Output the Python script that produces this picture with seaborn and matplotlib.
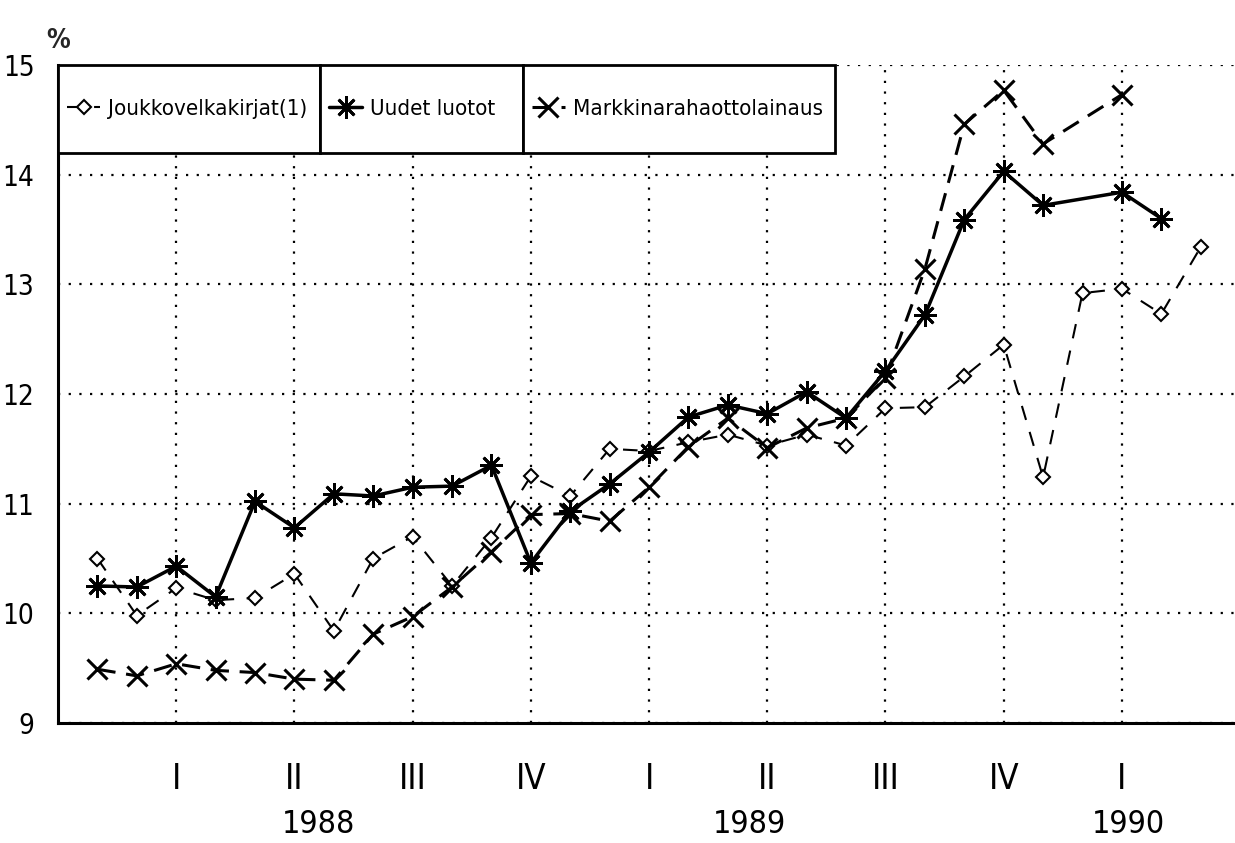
import matplotlib
matplotlib.use("Agg")
import matplotlib.pyplot as plt
import matplotlib.transforms as mtransforms
from matplotlib.font_manager import FontProperties
from matplotlib.legend import Legend
from matplotlib.patches import Rectangle
from matplotlib.ticker import FixedLocator
import seaborn as sns

# kuukausi-indeksi 1 = marraskuu 1987 (neljännesmerkit 3, 6, 9, ...)
months_jk = list(range(1, 30))
joukko = [10.50, 9.98, 10.23, 10.12, 10.14, 10.36, 9.84, 10.50, 10.70, 10.25,
          10.69, 11.25, 11.07, 11.50, 11.48, 11.56, 11.63, 11.53, 11.63, 11.53,
          11.87, 11.88, 12.16, 12.45, 11.24, 12.92, 12.96, 12.73, 13.34]

months_ul = list(range(1, 26)) + [27, 28]
uudet = [10.25, 10.24, 10.43, 10.15, 11.02, 10.78, 11.09, 11.07, 11.15, 11.16,
         11.35, 10.46, 10.93, 11.18, 11.47, 11.79, 11.90, 11.82, 12.02, 11.78,
         12.21, 12.72, 13.59, 14.03, 13.72, 13.84, 13.60]

months_mr = list(range(1, 26)) + [27]
markkina = [9.49, 9.43, 9.54, 9.48, 9.46, 9.40, 9.39, 9.81, 9.97, 10.24,
            10.56, 10.90, 10.91, 10.84, 11.15, 11.52, 11.78, 11.51, 11.69, 11.78,
            12.15, 13.14, 14.46, 14.77, 14.28, 14.73]

series_labels = ["Joukkovelkakirjat(1)", "Uudet luotot", "Markkinarahaottolainaus"]
quarter_ticks = [3, 6, 9, 12, 15, 18, 21, 24, 27]
quarter_labels = ["I", "II", "III", "IV", "I", "II", "III", "IV", "I"]
year_labels = ["1988", "1989", "1990"]
y_ticks = [9, 10, 11, 12, 13, 14, 15]

sns.set_style("white")
fam = ["DejaVu Sans"]
plt.rcParams["font.family"] = fam
plt.rcParams["font.stretch"] = "condensed"

fig = plt.figure(figsize=(12.35, 8.43), dpi=100)
ax = fig.add_axes([58 / 1235, 1 - 723 / 843, (1235 - 58) / 1235, (723 - 65) / 843])

sns.lineplot(x=months_jk, y=joukko, ax=ax, color="black", lw=1.5,
             marker="D", markersize=7, markerfacecolor="white",
             markeredgecolor="black", markeredgewidth=1.5, label=series_labels[0])
sns.lineplot(x=months_ul, y=uudet, ax=ax, color="black", lw=2.5,
             marker=(8, 2, 0), markersize=16, markeredgewidth=2,
             markeredgecolor="black", label=series_labels[1])
sns.lineplot(x=months_mr, y=markkina, ax=ax, color="black", lw=2.2,
             marker="x", markersize=14, markeredgewidth=2.2,
             markeredgecolor="black", label=series_labels[2])
if ax.get_legend() is not None:
    ax.get_legend().remove()

lines = ax.get_lines()[:3]
lines[0].set_dashes((7, 6))
lines[2].set_dashes((6, 3.5))

ax.set_xlim(0, 29.87)
ax.set_ylim(9, 15)

# akselit
for side in ["top", "right"]:
    ax.spines[side].set_visible(False)
for side in ["left", "bottom"]:
    ax.spines[side].set_linewidth(2.2)
    ax.spines[side].set_color("black")

ax.set_yticks(y_ticks)
ax.set_yticklabels([str(v) for v in y_ticks])
ax.set_xticks(quarter_ticks)
ax.set_xticklabels(quarter_labels)
ax.xaxis.set_minor_locator(FixedLocator(months_jk))

ax.tick_params(axis="y", which="major", length=14, width=2, direction="out",
               pad=3, labelsize=20, color="black", labelcolor="black")
ax.tick_params(axis="x", which="major", length=14, width=2, direction="out",
               pad=14, labelsize=25, color="black", labelcolor="black")
ax.tick_params(axis="x", which="minor", length=7, width=2, direction="out",
               color="black")

ax.set_axisbelow(True)
ax.grid(True, which="major", color="black", linestyle=(0, (1, 3.8)), linewidth=1.6)
ax.set_xlabel("")
ax.set_ylabel("")

# vuodet
trans = mtransforms.blended_transform_factory(ax.transData, ax.transAxes)
for lab, pos in zip(year_labels, [6.62, 17.56, 27.16]):
    ax.text(pos, -0.1535, lab, transform=trans, ha="center", va="center",
            fontsize=23, color="black")

ax.annotate("%", xy=(0, 1), xycoords="axes fraction", xytext=(0, 8),
            textcoords="offset points", ha="center", va="bottom", fontsize=19,
            fontweight="bold")

# selite: kolme laatikkoa rinnakkain
prop = FontProperties(family=fam, size=16, stretch="condensed")
edges = [0, 0.2226, 0.395, 0.660]
box_h = 0.1337
for i, (h, lab) in enumerate(zip(lines, series_labels)):
    x0, w = edges[i], edges[i + 1] - edges[i]
    ax.add_patch(Rectangle((x0, 1 - box_h), w, box_h, transform=ax.transAxes,
                           facecolor="white", edgecolor="black", lw=2,
                           zorder=4.5, clip_on=False))
    leg = Legend(ax, [h], [lab], loc="center left",
                 bbox_to_anchor=(x0, 1 - box_h, w, box_h),
                 borderaxespad=0, frameon=False, handlelength=1.5,
                 handletextpad=0.35, borderpad=0.4, numpoints=1, prop=prop)
    for t in leg.get_texts():
        t.set_color("black")
    leg.set_zorder(5)
    ax.add_artist(leg)

fig.savefig("out.png", dpi=100, facecolor="white")
